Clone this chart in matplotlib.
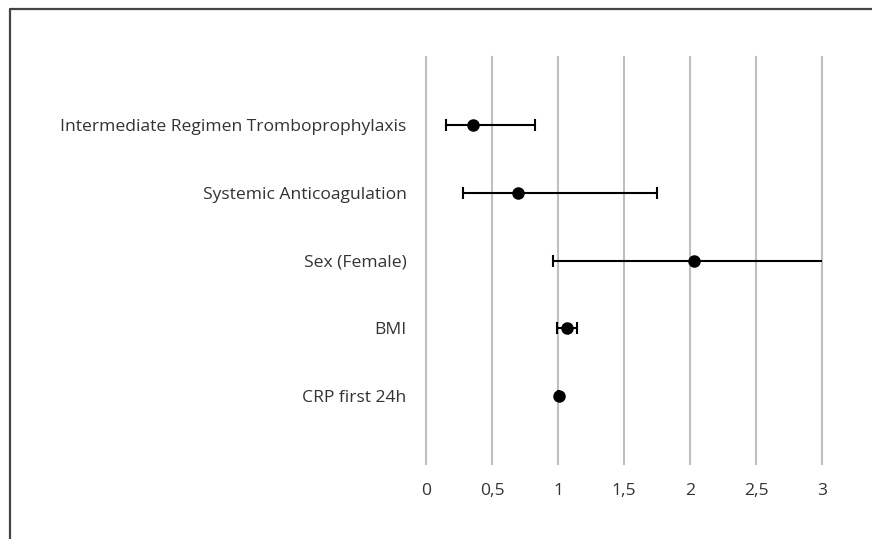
import matplotlib
matplotlib.use("Agg")
import matplotlib.pyplot as plt
from matplotlib.lines import Line2D

categories = ["Intermediate Regimen Tromboprophylaxis", "Systemic Anticoagulation",
              "Sex (Female)", "BMI", "CRP first 24h"]
estimates = [0.356, 0.70, 2.03, 1.07, 1.005]
lower = [0.152, 0.283, 0.965, 0.995, 1.000]
upper = [0.826, 1.747, 4.26, 1.144, 1.010]
xticks = [0, 0.5, 1, 1.5, 2, 2.5, 3]
xtick_labels = ["0", "0,5", "1", "1,5", "2", "2,5", "3"]

plt.rcParams['font.family'] = ['Open Sans', 'DejaVu Sans']

fig = plt.figure(figsize=(8.72, 5.39), dpi=100)
ax = fig.add_axes([426/872, 1-464/539, (822-426)/872, (464-57)/539])

ypos = list(range(len(categories)))
xerr = [[e - l for e, l in zip(estimates, lower)], [u - e for u, e in zip(upper, estimates)]]
ax.errorbar(estimates, ypos, xerr=xerr, fmt='o', color='black', ms=8, elinewidth=1.5,
            capsize=4, capthick=1.5, zorder=3)

ax.set_xlim(0, 3)
ax.set_ylim(len(categories), -1)
ax.set_xticks(xticks)
ax.set_xticklabels(xtick_labels)
ax.set_yticks(ypos)
ax.set_yticklabels(categories)
ax.tick_params(axis='both', length=0, labelsize=12.6, colors='#333333')
ax.tick_params(axis='x', pad=14)
ax.tick_params(axis='y', pad=14)
ax.grid(axis='x', color='#bfbfbf', linewidth=1.5)
for gl in ax.get_xgridlines():
    gl.set_clip_on(False)
ax.set_axisbelow(True)
for s in ax.spines.values():
    s.set_visible(False)

fig.add_artist(Line2D([10/872, 10/872, 1], [0, 1-9/539, 1-9/539], transform=fig.transFigure,
                      color='#444444', linewidth=1.6))

fig.savefig("out.png", dpi=100)
